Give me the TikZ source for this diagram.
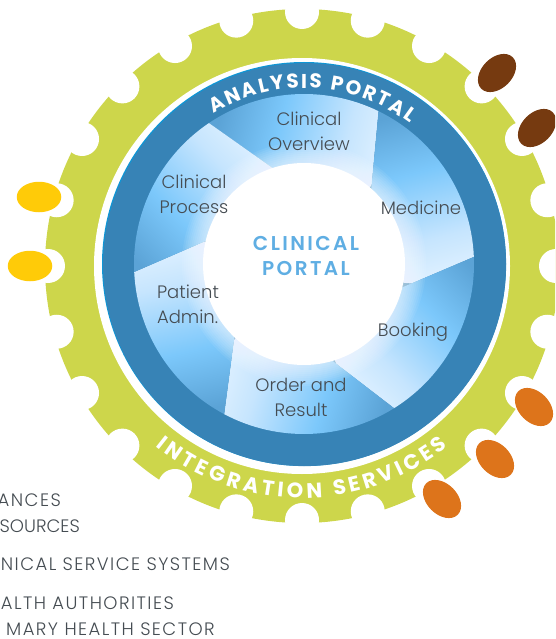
\documentclass[tikz,border=0pt]{standalone}
\usepackage{fontspec}
\usepackage{xcolor}
\usetikzlibrary{calc,shapes.geometric,decorations.text}
\setmainfont{Poppins Light}
\newfontfamily\bandfont{Poppins Bold}
\newfontfamily\hubfont[LetterSpace=12]{Poppins SemiBold}
\newfontfamily\lstfont[LetterSpace=8]{Poppins Light}
\definecolor{gearclr}{HTML}{CDD64B}
\definecolor{bandclr}{HTML}{3783B6}
\definecolor{rimclr}{HTML}{0E96D6}
\definecolor{hubclr}{HTML}{5FAEE3}
\definecolor{txtclr}{HTML}{454C52}
\definecolor{fadedark}{HTML}{5BA3D6}
\definecolor{fadeblue}{HTML}{7CC8FB}
\definecolor{fadepale}{HTML}{C6E5FE}
\definecolor{fadeend}{HTML}{E0F1FF}
\definecolor{yellowclr}{HTML}{FFCB08}
\definecolor{brownclr}{HTML}{763A10}
\definecolor{orangeclr}{HTML}{DD741B}
\pgfdeclarehorizontalshading{panelfade}{100bp}{color(0bp)=(fadedark); color(30bp)=(fadedark); color(46bp)=(fadeblue); color(64bp)=(fadepale); color(75bp)=(fadeend); color(100bp)=(fadeend)}
\begin{document}
\begin{tikzpicture}[x=1pt,y=1pt,
blob/.style = {ellipse, minimum width = 44.5pt, minimum height = 30.5pt, inner sep = 0 pt},
lbl/.style = {text = txtclr, align = center, font = \fontsize{18}{25}\selectfont},
lst/.style = {text = txtclr, anchor = base east, inner sep = 0 pt, font = \fontsize{18}{20}\lstfont}
]
\path[use as bounding box, clip] (0,0) rectangle (555,-639);
% gear with its notches
\coordinate (G) at (302,-266);
\coordinate (H) at (304,-264);
\fill[gearclr] (G) circle (257);
\foreach \a in {0,15,...,345}{\fill[white] ($(G)+(\a:254)$) circle (17);}
\fill[white] (G) circle (208);
% blue band
\fill[rimclr] (H) circle (202);
\fill[bandclr] ($(H)+(0.6,-0.6)$) circle (201.5);
% six panels
\foreach \a/\b/\c/\d in {124/64/47.8/107.7, 64/2.4/-13.8/47.8, 2.4/-58/-74/-13.8, -58/-118/-134/-74, -118/-177.3/-193.6/-134, -177.3/-236/-252.3/-193.6}{
\begin{scope}[shift={(H)}]
\clip (\a:170) arc (\a:\b:170) -- (\c:100) arc (\c:\d:100) -- cycle;
\shade[shading=panelfade, shading angle=\a-139] (\a-30:135) circle (95);
\end{scope}
}
\foreach \r in {122,120,...,102}{\fill[white, opacity=.07] (H) circle (\r);}
\fill[white] (H) circle (101);
% ellipses
\node[blob, fill=yellowclr] (yelA) at (39,-197) {};
\node[blob, fill=yellowclr] (yelB) at (30,-266) {};
\node[blob, fill=brownclr, rotate=45] (brnA) at (497,-73) {};
\node[blob, fill=brownclr, rotate=45] (brnB) at (537,-128) {};
\node[blob, fill=orangeclr, rotate=-45] (orgA) at (534,-407) {};
\node[blob, fill=orangeclr, rotate=-45] (orgB) at (495,-459) {};
\node[blob, fill=orangeclr, rotate=-45] (orgC) at (442,-499) {};
% curved titles
\path[decorate, decoration={text along path, text align=fit to path,
text={|\fontsize{20}{20}\bandfont\color{white}|ANALYSIS PORTAL}}]
($(H)+(121:176)$) arc (121:53:176);
\path[decorate, decoration={text along path, text align=fit to path,
text={|\fontsize{21}{21}\bandfont\color{white}|INTEGRATION SERVICES}}]
($(G)+(231:232)$) arc (231:309:232);
% labels
\node[lbl] (ovw) at (309,-131) {Clinical\\Overview};
\node[lbl] (prc) at (194,-194) {Clinical\\Process};
\node[lbl] (med) at (421,-208) {Medicine};
\node[lbl] (bkg) at (413,-332) {Booking};
\node[lbl] (ord) at (301,-397) {Order and\\Result};
\node[lbl, align=left] (pat) at (188,-304) {Patient\\Admin.};
\node[lbl, text=hubclr, font=\fontsize{20}{25}\hubfont] (hub) at (306,-256) {CLINICAL\\PORTAL};
% list, cut by the page edge
\node[lst] (lsA) at (61,-506) {ANCES};
\node[lst, font=\fontsize{18}{20}\selectfont] (lsB) at (80,-532) {SOURCES};
\node[lst] (lsC) at (230,-570) {NICAL SERVICE SYSTEMS};
\node[lst] (lsD) at (174,-609) {ALTH AUTHORITIES};
\node[lst] (lsE) at (215,-635) {MARY HEALTH SECTOR};
\end{tikzpicture}
\end{document}
